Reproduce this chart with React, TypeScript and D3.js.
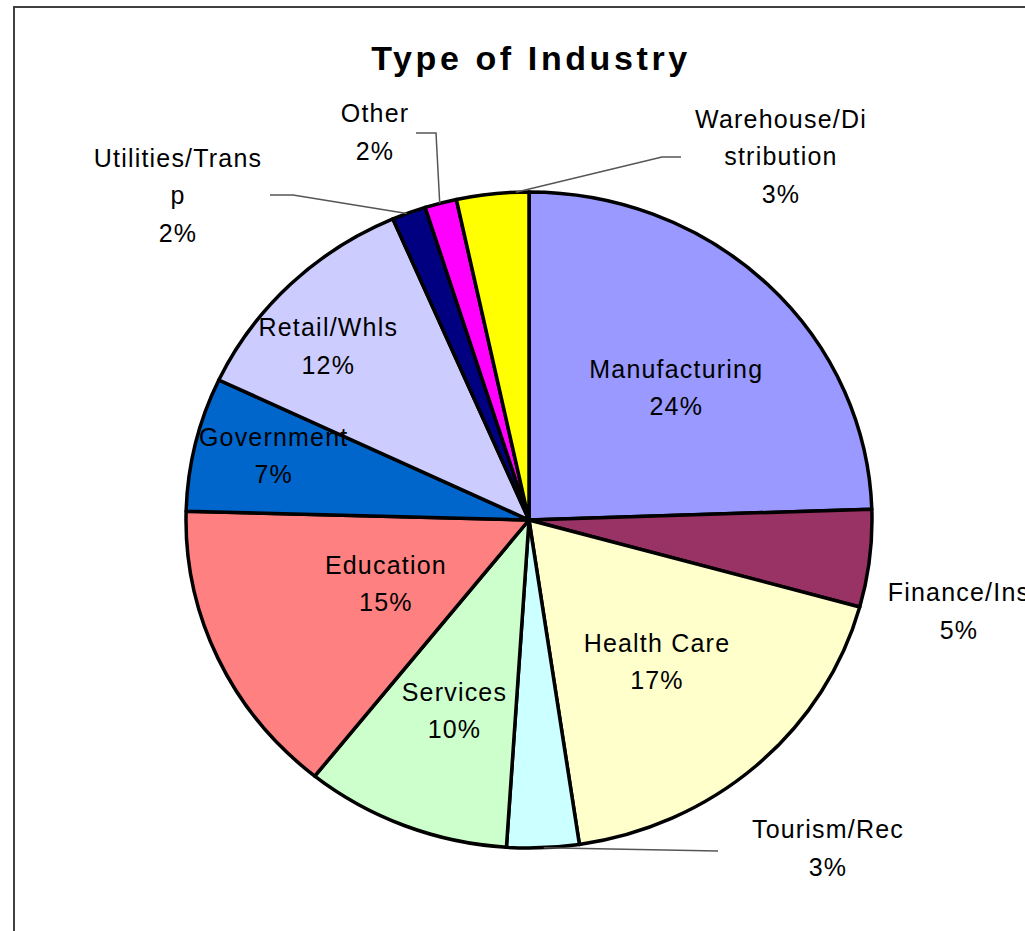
import * as d3 from "d3";
import { useEffect, useRef } from "react";

// Slices, clockwise from 12 o'clock
const categories = [
  "Manufacturing",
  "Finance/Ins",
  "Health Care",
  "Tourism/Rec",
  "Services",
  "Education",
  "Government",
  "Retail/Whls",
  "Utilities/Trans",
  "Other",
  "Warehouse/Distribution",
];
const shares = [24.5, 4.8, 18.4, 3.4, 9.7, 14.7, 6.6, 11.5, 1.6, 1.5, 3.4];
const percentLabels = ["24%", "5%", "17%", "3%", "10%", "15%", "7%", "12%", "2%", "2%", "3%"];
const nameLines = [
  ["Manufacturing"],
  ["Finance/Ins"],
  ["Health Care"],
  ["Tourism/Rec"],
  ["Services"],
  ["Education"],
  ["Government"],
  ["Retail/Whls"],
  ["Utilities/Trans", "p"],
  ["Other"],
  ["Warehouse/Di", "stribution"],
];
const colors = [
  "#9999FF",
  "#993366",
  "#FFFFCC",
  "#CCFFFF",
  "#CCFFCC",
  "#FF8080",
  "#0066CC",
  "#CCCCFF",
  "#000080",
  "#FF00FF",
  "#FFFF00",
];

// label placement: inside labels as [fraction along slice, radius factor]
const insideLabels: Record<string, [number, number]> = {
  Manufacturing: [0.53, 0.59],
  "Health Care": [0.51, 0.57],
  Services: [0.48, 0.62],
  Education: [0.5, 0.46],
  Government: [0.56, 0.77],
  "Retail/Whls": [0.41, 0.79],
};
// outside labels: text centre, plus leader line (start fraction along slice edge, then elbow points)
const outsideLabels: Record<string, { x: number; y: number; leader?: { frac: number; pts: [number, number][] } }> = {
  "Finance/Ins": { x: 959, y: 611 },
  "Tourism/Rec": { x: 828, y: 848, leader: { frac: 0.49, pts: [[718, 851]] } },
  "Warehouse/Distribution": { x: 781, y: 156, leader: { frac: 0.82, pts: [[662, 157], [681, 157]] } },
  Other: { x: 375, y: 132, leader: { frac: 0.47, pts: [[436, 133], [416, 133]] } },
  "Utilities/Trans": { x: 178, y: 195, leader: { frac: 0.44, pts: [[293, 195], [270, 195]] } },
};

const W = 1025;
const H = 931;
const cx = 529;
const cy = 520;
const rx = 343;
const ry = 328;
const lineGap = 37.5;
const font = "'Liberation Sans', Arial, sans-serif";

export default function App() {
  const svgRef = useRef<SVGSVGElement | null>(null);

  useEffect(() => {
    if (!svgRef.current) return;
    const svg = d3.select(svgRef.current);
    svg.selectAll("*").remove();

    svg.append("rect").attr("width", W).attr("height", H).attr("fill", "#fff");

    // chart frame (left and top edges visible)
    svg
      .append("path")
      .attr("d", `M14,${H} L14,7 L${W},7`)
      .attr("fill", "none")
      .attr("stroke", "#404040")
      .attr("stroke-width", 2);

    svg
      .append("text")
      .attr("x", 531)
      .attr("y", 70)
      .attr("text-anchor", "middle")
      .attr("font-family", font)
      .attr("font-weight", "bold")
      .attr("font-size", 34)
      .attr("letter-spacing", 3.6)
      .text("Type of Industry");

    const pie = d3
      .pie<number>()
      .sort(null)
      .value((d) => d);
    const arcs = pie(shares);

    const arc = d3.arc<d3.PieArcDatum<number>>().innerRadius(0).outerRadius(ry);

    // point on the (slightly elliptical) pie at angle a, radius factor r
    const pt = (a: number, r: number): [number, number] => [
      cx + rx * r * Math.sin(a),
      cy - ry * r * Math.cos(a),
    ];

    const g = svg
      .append("g")
      .attr("transform", `translate(${cx},${cy}) scale(${rx / ry},1)`);

    g.selectAll("path")
      .data(arcs)
      .join("path")
      .attr("d", arc)
      .attr("fill", (_, i) => colors[i])
      .attr("stroke", "#000")
      .attr("stroke-width", 3.5)
      .attr("stroke-linejoin", "round")
      .attr("vector-effect", "non-scaling-stroke");

    const drawLabel = (lines: string[], x: number, yc: number) => {
      const t = svg
        .append("text")
        .attr("text-anchor", "middle")
        .attr("font-family", font)
        .attr("font-size", 25)
        .attr("letter-spacing", 1.2)
        .attr("fill", "#000");
      lines.forEach((ln, k) => {
        t.append("tspan")
          .attr("x", x)
          .attr("y", yc + (k - (lines.length - 1) / 2) * lineGap + 9)
          .text(ln);
      });
    };

    arcs.forEach((d, i) => {
      const name = categories[i];
      const lines = [...nameLines[i], percentLabels[i]];
      const span = d.endAngle - d.startAngle;
      if (insideLabels[name]) {
        const [f, r] = insideLabels[name];
        const [x, y] = pt(d.startAngle + f * span, r);
        drawLabel(lines, x, y);
      } else if (outsideLabels[name]) {
        const o = outsideLabels[name];
        if (o.leader) {
          const start = pt(d.startAngle + o.leader.frac * span, 1);
          svg
            .append("path")
            .attr("d", d3.line()([start, ...o.leader.pts]))
            .attr("fill", "none")
            .attr("stroke", "#555")
            .attr("stroke-width", 1.5);
        }
        drawLabel(lines, o.x, o.y);
      }
    });
  }, []);

  return (
    <svg
      ref={svgRef}
      width={W}
      height={H}
      style={{ position: "absolute", left: 0, top: 0, display: "block" }}
    />
  );
}
